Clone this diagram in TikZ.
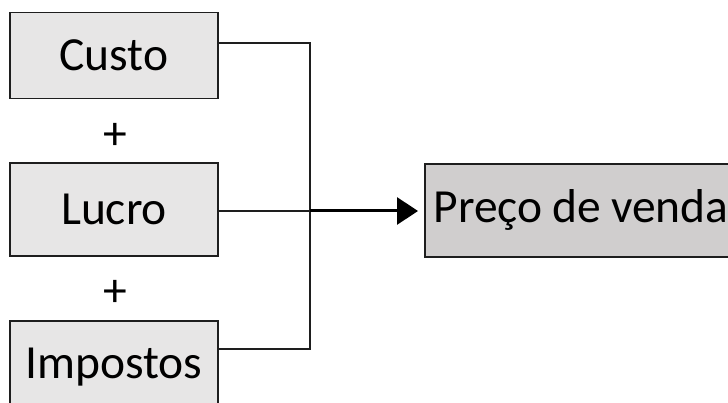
\documentclass[tikz,border=0pt]{standalone}
\usepackage{fontspec}
\setmainfont{Carlito}
\usetikzlibrary{arrows.meta,calc}
\definecolor{boxfill}{HTML}{E7E6E6}
\definecolor{resultfill}{HTML}{D0CECE}
\definecolor{edge}{HTML}{1E1E1E}
\newcommand{\tightsp}{\hspace{0.21em}}
\begin{document}
\begin{tikzpicture}[x=1pt,y=-1pt,
  termbox/.style={draw=edge, line width=1.6pt, fill=boxfill, minimum width=208pt,
    minimum height=86pt, inner sep=0pt, font=\fontsize{47.5}{56}\selectfont},
  resultbox/.style={draw=edge, line width=1.6pt, fill=resultfill, text width=330pt,
    inner xsep=9pt, inner ysep=0pt, minimum height=93pt, align=left,
    font=\fontsize{47.5}{56}\selectfont},
  plus/.style={font=\fontsize{47.5}{56}\selectfont, inner sep=0pt},
  wire/.style={draw=edge, line width=1.6pt},
  result arrow/.style={draw=black, line width=3pt, -{Triangle[length=21pt,width=27pt]}}]
  \useasboundingbox (0,0) rectangle (728,403);
  \fill[white] (0,0) rectangle (728,403);

  % the three terms of the sum
  \node[termbox] (custo) at (114,55.5) {Custo};
  \node[termbox, minimum height=93pt] (lucro) at (114,209.5) {Lucro};
  \node[termbox, minimum height=93pt] (impostos) at (114,367.5) {Impostos};

  % plus signs between the terms
  \node[plus] (p1) at (115,136) {+};
  \node[plus] (p2) at (115,293) {+};

  % result, running past the right edge
  \node[resultbox, anchor=north west] (preco) at (424,163) {Preço\tightsp de\tightsp venda};

  % collecting wires
  \coordinate (top) at (310,43);
  \coordinate (bottom) at (310,349);
  \coordinate (join) at (310,211);
  \draw[wire] ([yshift=12.5pt]custo.east) -- (top) -- (bottom) -- ([yshift=18.5pt]impostos.east);
  \draw[wire] ([yshift=-1.5pt]lucro.east) -- (join);
  \draw[result arrow] (join) -- ([xshift=-6pt]preco.west |- join);
\end{tikzpicture}
\end{document}
